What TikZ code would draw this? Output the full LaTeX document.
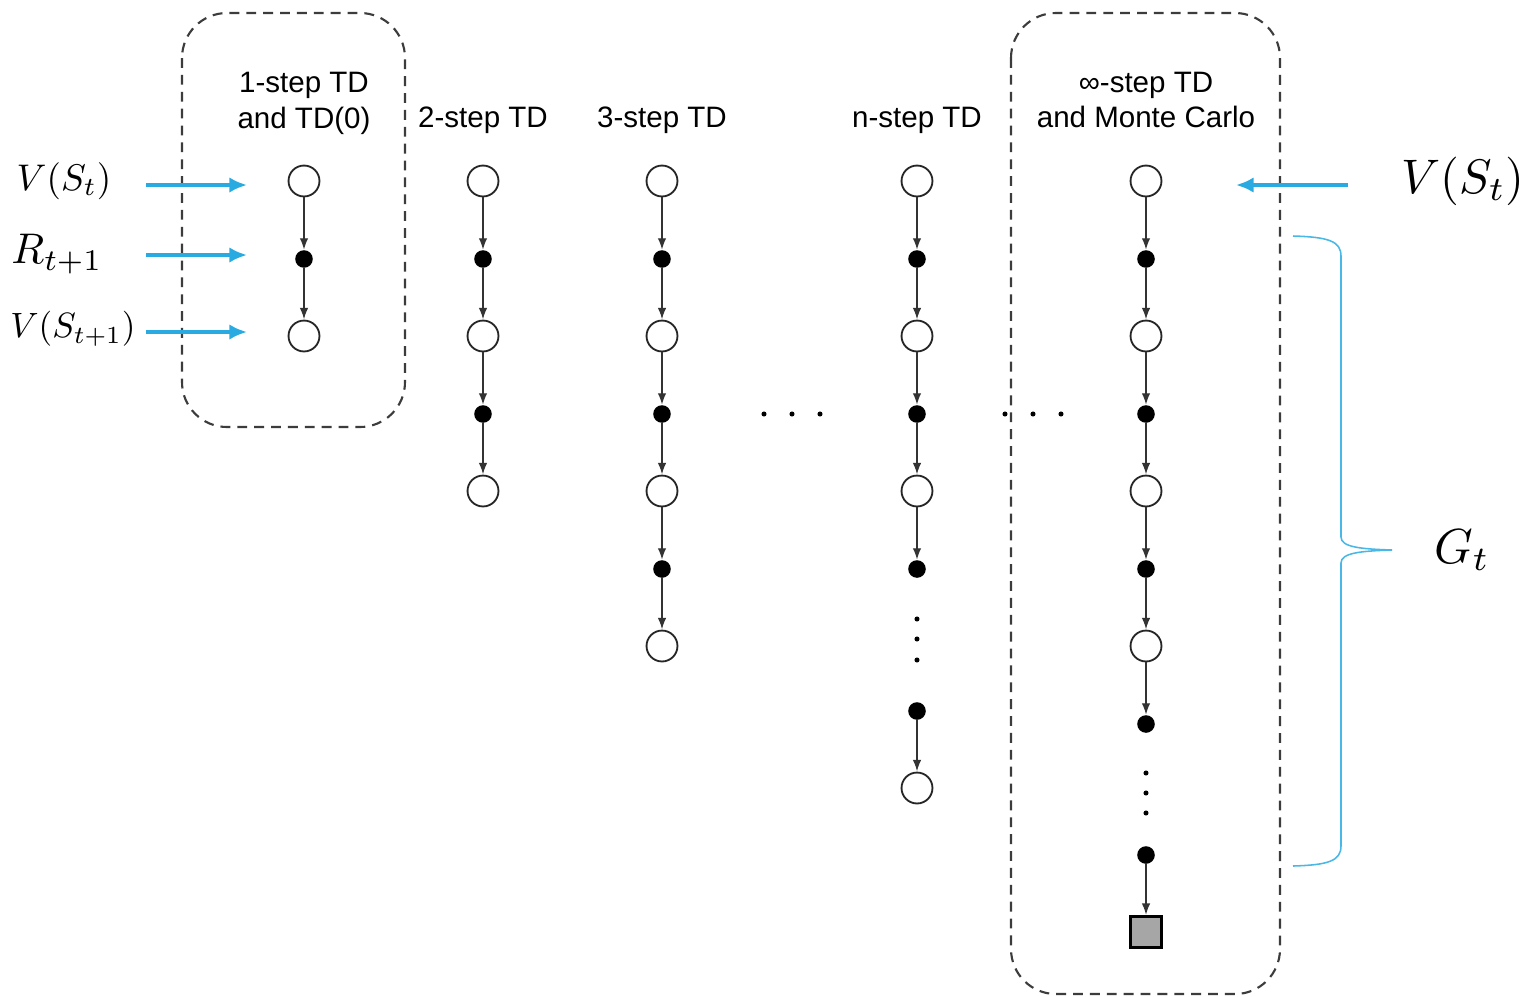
\documentclass[tikz,border=0pt]{standalone}
\usepackage{fontspec}
\setmainfont{Liberation Sans}
\usetikzlibrary{arrows.meta}
\definecolor{bluearr}{RGB}{41,171,226}
\definecolor{dashgray}{RGB}{60,60,60}
\tikzset{
  opn/.style={circle,draw=black!85,line width=1.3pt,fill=white,minimum size=22pt,inner sep=0pt},
  fil/.style={circle,fill=black,minimum size=12.5pt,inner sep=0pt},
  sdot/.style={circle,fill=black,minimum size=3.6pt,inner sep=0pt},
  term/.style={rectangle,draw=black,line width=2pt,fill=black!35,minimum size=22pt,inner sep=0pt},
  colarr/.style={draw=black!80,line width=0.9pt,-{Latex[length=8pt,width=6pt]},shorten >=0.3pt},
  bluear/.style={draw=bluearr,line width=2.4pt,-{Latex[length=12.5pt,width=11pt]}},
  dbox/.style={draw=dashgray,line width=1.5pt,dash pattern=on 7pt off 5pt,rounded corners=32pt},
  lab/.style={font=\fontsize{21}{25.5}\selectfont,align=center,inner sep=0pt},
}
\begin{document}
\begin{tikzpicture}[x=0.025cm,y=-0.025cm]
\useasboundingbox (0,0) rectangle (1526,996);
\fill[white] (0,0) rectangle (1526,996);

% dashed boxes
\draw[dbox] (182,13) rectangle (405,427);
\draw[dbox] (1011,13) rectangle (1280,994);

% titles
\node[lab] (t1) at (304,103) {1-step TD\\and TD(0)};
\node[lab] (t2) at (483,120) {2-step TD};
\node[lab] (t3) at (662,120) {3-step TD};
\node[lab] (tn) at (917,120) {n-step TD};
\node[lab] (ti) at (1146,100) {∞-step TD\\and Monte Carlo};

% column 1
\node[opn] (a1) at (304,181) {};
\node[fil] (a2) at (304,259) {};
\node[opn] (a3) at (304,336) {};
\draw[colarr] (a1) -- (a2);
\draw[colarr] (a2) -- (a3);

% column 2
\node[opn] (b1) at (483,181) {};
\node[fil] (b2) at (483,259) {};
\node[opn] (b3) at (483,336) {};
\node[fil] (b4) at (483,414) {};
\node[opn] (b5) at (483,491) {};
\foreach \p/\q in {b1/b2,b2/b3,b3/b4,b4/b5} \draw[colarr] (\p) -- (\q);

% column 3
\node[opn] (c1) at (662,181) {};
\node[fil] (c2) at (662,259) {};
\node[opn] (c3) at (662,336) {};
\node[fil] (c4) at (662,414) {};
\node[opn] (c5) at (662,491) {};
\node[fil] (c6) at (662,569) {};
\node[opn] (c7) at (662,646) {};
\foreach \p/\q in {c1/c2,c2/c3,c3/c4,c4/c5,c5/c6,c6/c7} \draw[colarr] (\p) -- (\q);

% column n
\node[opn] (n1) at (917,181) {};
\node[fil] (n2) at (917,259) {};
\node[opn] (n3) at (917,336) {};
\node[fil] (n4) at (917,414) {};
\node[opn] (n5) at (917,491) {};
\node[fil] (n6) at (917,569) {};
\node[sdot] (nd1) at (917,619) {};
\node[sdot] (nd2) at (917,639) {};
\node[sdot] (nd3) at (917,660) {};
\node[fil] (n7) at (917,711) {};
\node[opn] (n8) at (917,788) {};
\foreach \p/\q in {n1/n2,n2/n3,n3/n4,n4/n5,n5/n6,n7/n8} \draw[colarr] (\p) -- (\q);

% column infinity
\node[opn] (m1) at (1146,181) {};
\node[fil] (m2) at (1146,259) {};
\node[opn] (m3) at (1146,336) {};
\node[fil] (m4) at (1146,414) {};
\node[opn] (m5) at (1146,491) {};
\node[fil] (m6) at (1146,569) {};
\node[opn] (m7) at (1146,646) {};
\node[fil] (m8) at (1146,724) {};
\node[sdot] (md1) at (1146,773) {};
\node[sdot] (md2) at (1146,793) {};
\node[sdot] (md3) at (1146,813) {};
\node[fil] (m9) at (1146,855) {};
\node[term] (m10) at (1146,932) {};
\foreach \p/\q in {m1/m2,m2/m3,m3/m4,m4/m5,m5/m6,m6/m7,m7/m8,m9/m10} \draw[colarr] (\p) -- (\q);

% horizontal ellipses
\node[sdot] (h1) at (764,414) {};
\node[sdot] (h2) at (792,414) {};
\node[sdot] (h3) at (820,414) {};
\node[sdot] (h4) at (1005,414) {};
\node[sdot] (h5) at (1033,414) {};
\node[sdot] (h6) at (1061,414) {};

% left math labels
\node[scale=2.64,inner sep=0pt] (lv) at (64,181) {$V(S_t)$};
\node[scale=3.05,inner sep=0pt] (lr) at (57,254) {$R_{t+1}$};
\node[scale=2.5,inner sep=0pt] (lv1) at (73,329) {$V(S_{t+1})$};
\coordinate (s1) at (146,185); \coordinate (e1) at (247,185);
\coordinate (s2) at (146,255); \coordinate (e2) at (247,255);
\coordinate (s3) at (146,332); \coordinate (e3) at (247,332);
\draw[bluear] (s1) -- (e1);
\draw[bluear] (s2) -- (e2);
\draw[bluear] (s3) -- (e3);

% right labels
\node[scale=3.45,inner sep=0pt] (rv) at (1463,181) {$V(S_t)$};
\coordinate (s4) at (1348,185); \coordinate (e4) at (1236,185);
\draw[bluear] (s4) -- (e4);

% brace
\coordinate (bt) at (1293,236);
\coordinate (bb) at (1293,866);
\coordinate (btip) at (1392,550);
\draw[bluearr!85,line width=1.1pt]
  (bt) .. controls (1328,237) and (1341,241) .. (1341,256) -- (1341,537)
  .. controls (1341,547) and (1360,549) .. (btip)
  .. controls (1360,551) and (1341,553) .. (1341,563) -- (1341,846)
  .. controls (1341,861) and (1328,865) .. (bb);
\node[scale=3.5,inner sep=0pt] (gt) at (1462,550) {$G_t$};
\end{tikzpicture}
\end{document}
